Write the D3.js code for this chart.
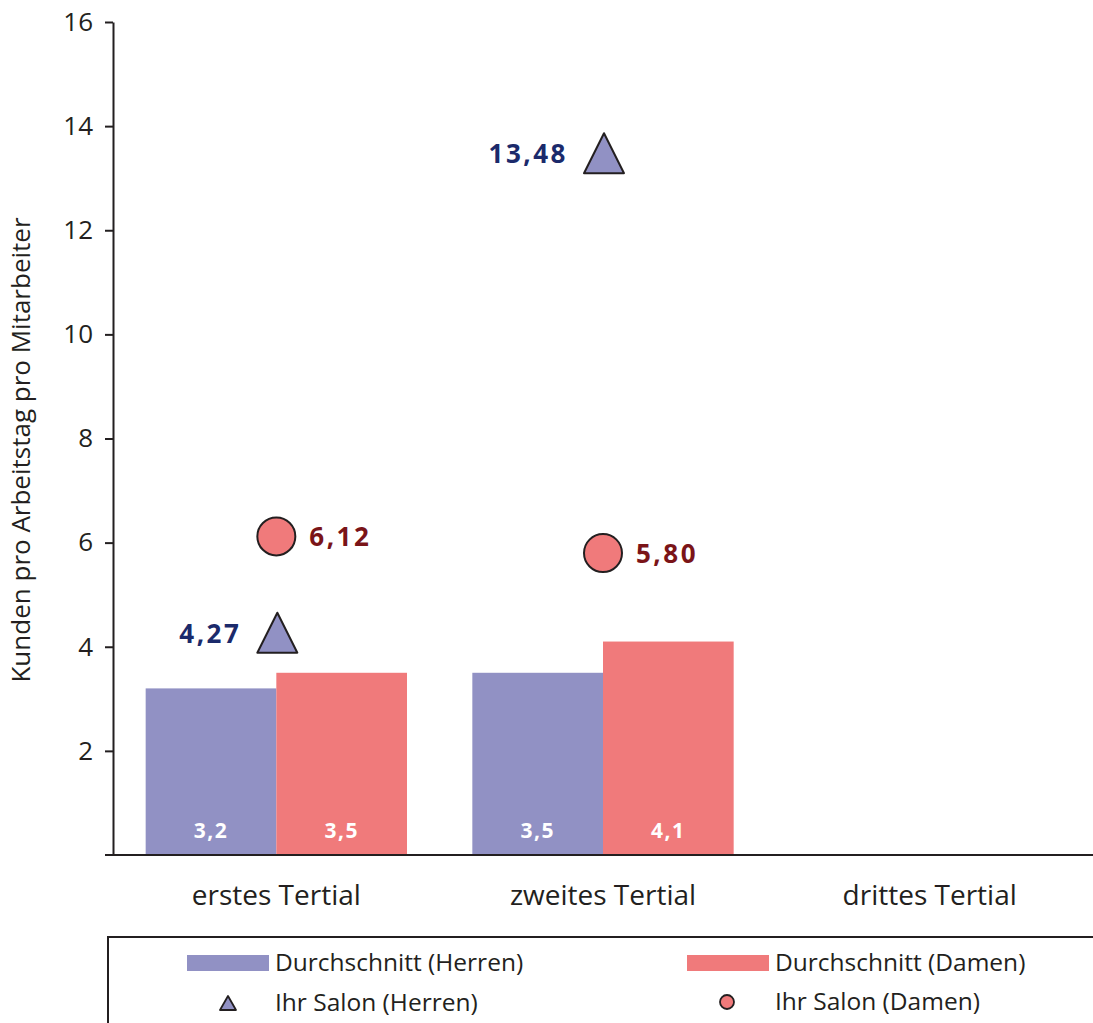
<!DOCTYPE html>
<html lang="de">
<head>
<meta charset="UTF-8">
<title>Kunden pro Arbeitstag</title>
<script src="https://cdn.jsdelivr.net/npm/d3@7"></script>
<style>
  body { margin: 0; background: #fff; }
  text { font-family: "Open Sans", "DejaVu Sans", sans-serif; fill: #231f20; }
</style>
</head>
<body>
<div id="chart"></div>
<script>
// data
const categories = ["erstes Tertial", "zweites Tertial", "drittes Tertial"];
const avgHerren = [3.2, 3.5, null];
const avgDamen = [3.5, 4.1, null];
const salonHerren = [4.27, 13.48, null];
const salonDamen = [6.12, 5.80, null];
const yTicks = [2, 4, 6, 8, 10, 12, 14, 16];

const W = 1093, H = 1023;
const margin = {top: 22, right: 0, bottom: 168, left: 113};
const width = W - margin.left - margin.right,
      height = H - margin.top - margin.bottom;

const fmt = (v, d) => v.toFixed(d).replace(".", ",");

const svg = d3.select("#chart").append("svg")
    .attr("width", W).attr("height", H);
const g = svg.append("g")
    .attr("transform", `translate(${margin.left},${margin.top})`);

const x = d3.scaleBand().domain(categories).range([0, width]).padding(0);
const sub = d3.scaleBand().domain(["h", "d"]).range([0, x.bandwidth()]).paddingOuter(0.25).paddingInner(0);
const y = d3.scaleLinear().domain([0, 16]).range([height, 0]);

const cHerren = "#9191c4", cDamen = "#f07a7b";

// triangle marker, w wide and h tall, centred on its box
const triPath = (w, h) => {
  const p = d3.path();
  p.moveTo(0, -h / 2);
  p.lineTo(w / 2, h / 2);
  p.lineTo(-w / 2, h / 2);
  p.closePath();
  return p.toString();
};

// bars
categories.forEach((c, i) => {
  [["h", avgHerren[i], cHerren], ["d", avgDamen[i], cDamen]].forEach(([k, v, col]) => {
    if (v == null) return;
    g.append("rect")
      .attr("x", x(c) + sub(k))
      .attr("y", y(v))
      .attr("width", sub.bandwidth())
      .attr("height", height - y(v))
      .attr("fill", col);
    g.append("text")
      .attr("x", x(c) + sub(k) + sub.bandwidth() / 2)
      .attr("y", height - 17)
      .attr("text-anchor", "middle")
      .attr("font-size", 21)
      .attr("font-weight", "bold")
      .attr("letter-spacing", 1.5)
      .style("fill", "#fff")
      .text(fmt(v, 1));
  });
});

// y axis
const yAxis = g.append("g")
    .call(d3.axisLeft(y).tickValues(yTicks).tickSize(8).tickPadding(12).tickSizeOuter(0));
yAxis.select(".domain").attr("stroke", "#231f20").attr("stroke-width", 2);
yAxis.selectAll(".tick line").attr("stroke", "#231f20").attr("stroke-width", 2);
yAxis.selectAll(".tick text").attr("font-size", 26).attr("font-family", "Open Sans").style("fill", "#231f20");

// x axis line
g.append("line")
  .attr("x1", -8).attr("x2", width)
  .attr("y1", height).attr("y2", height)
  .attr("stroke", "#231f20").attr("stroke-width", 2);

const xAxis = g.append("g")
    .attr("transform", `translate(0,${height})`)
    .call(d3.axisBottom(x).tickSize(0).tickPadding(30));
xAxis.select(".domain").remove();
xAxis.selectAll(".tick text").attr("font-size", 28).attr("font-family", "Open Sans").style("fill", "#231f20");

// y label
svg.append("text")
  .attr("transform", `translate(30,450) rotate(-90)`)
  .attr("text-anchor", "middle")
  .attr("font-size", 26)
  .text("Kunden pro Arbeitstag pro Mitarbeiter");

// markers
categories.forEach((c, i) => {
  const cx = x(c) + x.bandwidth() / 2;
  if (salonHerren[i] != null) {
    g.append("path")
      .attr("d", triPath(40, 40))
      .attr("transform", `translate(${cx + 1},${y(salonHerren[i])})`)
      .attr("fill", cHerren).attr("stroke", "#231f20").attr("stroke-width", 2)
      .attr("stroke-linejoin", "round");
    g.append("text")
      .attr("x", cx - 35).attr("y", y(salonHerren[i]) + 10)
      .attr("text-anchor", "end")
      .attr("font-size", 26).attr("font-weight", "bold").attr("letter-spacing", 2.5)
      .style("fill", "#1b2a6b")
      .text(fmt(salonHerren[i], 2));
  }
  if (salonDamen[i] != null) {
    g.append("circle")
      .attr("cx", cx).attr("cy", y(salonDamen[i]))
      .attr("r", 19)
      .attr("fill", cDamen).attr("stroke", "#231f20").attr("stroke-width", 2);
    g.append("text")
      .attr("x", cx + 33).attr("y", y(salonDamen[i]) + 10)
      .attr("font-size", 26).attr("font-weight", "bold").attr("letter-spacing", 2.5)
      .style("fill", "#7a1418")
      .text(fmt(salonDamen[i], 2));
  }
});

// legend
const lg = svg.append("g");
lg.append("rect")
  .attr("x", 108).attr("y", 937).attr("width", W).attr("height", 200)
  .attr("fill", "none").attr("stroke", "#231f20").attr("stroke-width", 2);
const legendItems = [
  {type: "bar", col: cHerren, label: "Durchschnitt (Herren)", lx: 187, ly: 963},
  {type: "bar", col: cDamen, label: "Durchschnitt (Damen)", lx: 687, ly: 963},
  {type: "tri", col: cHerren, label: "Ihr Salon (Herren)", lx: 187, ly: 1003},
  {type: "circ", col: cDamen, label: "Ihr Salon (Damen)", lx: 687, ly: 1002}
];
legendItems.forEach(d => {
  if (d.type === "bar") {
    lg.append("rect").attr("x", d.lx).attr("y", d.ly - 8).attr("width", 82).attr("height", 16).attr("fill", d.col);
  } else if (d.type === "tri") {
    lg.append("path").attr("d", triPath(16, 14))
      .attr("transform", `translate(${d.lx + 41},${d.ly})`)
      .attr("fill", d.col).attr("stroke", "#231f20").attr("stroke-width", 1.8)
      .attr("stroke-linejoin", "round");
  } else {
    lg.append("circle").attr("cx", d.lx + 40).attr("cy", d.ly).attr("r", 7)
      .attr("fill", d.col).attr("stroke", "#231f20").attr("stroke-width", 1.8);
  }
  lg.append("text")
    .attr("x", d.lx + 88).attr("y", d.ly + 8)
    .attr("font-size", 24.5)
    .text(d.label);
});
</script>
</body>
</html>
